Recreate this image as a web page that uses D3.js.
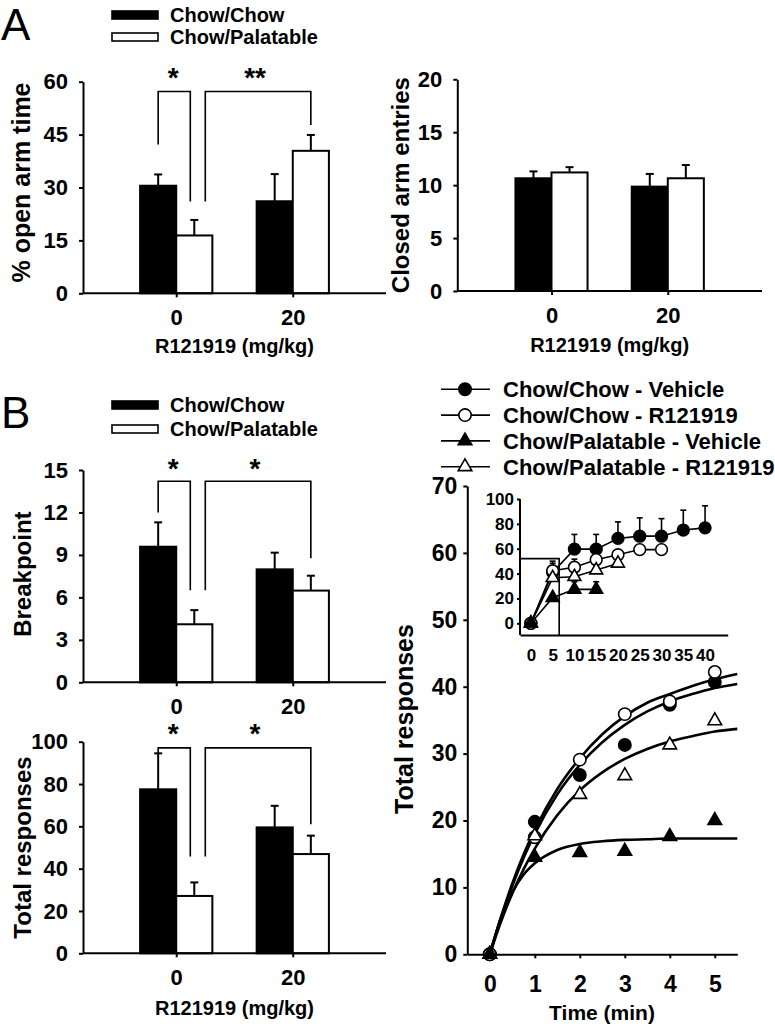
<!DOCTYPE html>
<html><head><meta charset="utf-8">
<script src="https://cdn.jsdelivr.net/npm/d3@7"></script>
<style>
body{margin:0;background:#fff}
svg{display:block}
text{font-family:"Liberation Sans",Arial,Helvetica,sans-serif;font-weight:bold;fill:#000}
</style></head><body>
<svg id="c" width="775" height="1028"></svg>
<script>
// ---------------- DATA ----------------
const doses = ["0", "20"];
const groups = ["Chow/Chow", "Chow/Palatable"];

// Panel A left: % open arm time
const openArmCC = [30.5, 26.1];
const openArmCCsem = [3.2, 7.7];
const openArmCP = [16.4, 40.4];
const openArmCPsem = [4.4, 4.5];
const openArmTicks = [0, 15, 30, 45, 60];

// Panel A right: closed arm entries
const closedCC = [10.65, 9.86];
const closedCCsem = [0.65, 1.2];
const closedCP = [11.2, 10.65];
const closedCPsem = [0.5, 1.25];
const closedTicks = [0, 5, 10, 15, 20];

// Panel B: breakpoint
const bpCC = [9.58, 7.98];
const bpCCsem = [1.72, 1.18];
const bpCP = [4.1, 6.48];
const bpCPsem = [1.0, 1.05];
const bpTicks = [0, 3, 6, 9, 12, 15];

// Panel B: total responses (bars)
const trCC = [77.5, 59.5];
const trCCsem = [17.0, 10.2];
const trCP = [27.1, 46.9];
const trCPsem = [6.4, 8.7];
const trTicks = [0, 20, 40, 60, 80, 100];

// Significance brackets (values in data units): top, left-leg bottom, right-leg bottom
const openArmSig = [
  {from: [0, 0], to: [0, 1], top: 57.2, lb: 42.2, rb: 26.0, label: "*", star: 62.8},
  {from: [0, 1], to: [1, 1], top: 57.2, lb: 26.0, rb: 47.7, label: "**", star: 62.8}
];
const bpSig = [
  {from: [0, 0], to: [0, 1], top: 14.2, lb: 12.0, rb: 6.5, label: "*", star: 15.5},
  {from: [0, 1], to: [1, 1], top: 14.2, lb: 6.5, rb: 8.76, label: "*", star: 15.5}
];
const trSig = [
  {from: [0, 0], to: [0, 1], top: 97.1, lb: 94.5, rb: 45.7, label: "*", star: 106.4},
  {from: [0, 1], to: [1, 1], top: 97.1, lb: 45.7, rb: 61.0, label: "*", star: 106.4}
];

// Line chart: cumulative responses over time
const seriesNames = ["Chow/Chow - Vehicle", "Chow/Chow - R121919", "Chow/Palatable - Vehicle", "Chow/Palatable - R121919"];
const times = [0, 1, 2, 3, 4, 5];
const ccVeh = [0, 19.8, 26.8, 31.3, 37.3, 40.7];
const ccR = [0, 17.5, 29.1, 35.9, 37.8, 42.2];
const cpVeh = [0, 14.5, 15.2, 15.4, 17.6, 20.0];
const cpR = [0, 17.7, 23.9, 26.7, 31.3, 34.9];
const timeTicks = [0, 1, 2, 3, 4, 5];
const respTicks = [0, 10, 20, 30, 40, 50, 60, 70];

// fitted curves
const fitTimes = [0, 0.25, 0.5, 0.75, 1, 1.5, 2, 2.5, 3, 3.5, 4, 4.5, 5, 5.5];
const fitCcVeh = [0, 5.4, 10.2, 14.4, 18.0, 23.9, 28.3, 31.7, 34.3, 36.3, 37.8, 38.9, 39.8, 40.4];
const fitCcR = [0, 5.6, 10.6, 14.9, 18.6, 24.7, 29.3, 32.9, 35.6, 37.6, 38.9, 40.1, 41.1, 41.9];
const fitCpVeh = [0, 5.5, 9.3, 11.9, 13.6, 15.6, 16.5, 16.9, 17.1, 17.2, 17.3, 17.3, 17.3, 17.3];
const fitCpR = [0, 4.9, 9.1, 12.7, 15.8, 20.8, 24.5, 27.2, 29.2, 30.7, 31.8, 32.6, 33.3, 33.7];

// Inset: longer session
const insetTimes = [0, 5, 10, 15, 20, 25, 30, 35, 40];
const inCcVeh = [0, 41, 59.7, 59.7, 68.3, 70.1, 70.1, 75, 76.8];
const inCcVehSem = [0, 9, 11.8, 11.8, 13.3, 14.7, 14.1, 16, 17.7];
const inCcR = [0, 42.3, 45.1, 51.2, 55.2, 59.3, 59.3];
const inCcRSem = [0, 6, 6.5, 5.5, 3, 1, 1];
const inCpR = [0, 36.6, 37.5, 42.8, 48.2];
const inCpRSem = [0, 3, 4, 4, 3];
const inCpVeh = [0, 20.6, 27.3, 27.3];
const inCpVehSem = [0, 2, 6.1, 6.1];
const inXTicks = [0, 5, 10, 15, 20, 25, 30, 35, 40];
const inYTicks = [0, 20, 40, 60, 80, 100];
const inBox = [6.5, 52];

// ---------------- DRAW ----------------
const svg = d3.select("#c");
const AX = 2;

function styleAxis(g, fs) {
  g.select(".domain").attr("stroke", "#000").attr("stroke-width", AX);
  g.selectAll(".tick line").attr("stroke", "#000").attr("stroke-width", AX);
  g.selectAll(".tick text").style("font-size", fs + "px").attr("fill", "#000");
}

function barChart(o) {
  const g = svg.append("g");
  const y = d3.scaleLinear().domain([o.ticks[0], o.ticks[o.ticks.length - 1]]).range([o.y0, o.y1]);
  const x = d3.scalePoint().domain(doses).range([o.x0, o.x1]).padding(o.pad);
  const bw = x.step() * 0.31;
  // y axis
  const ya = g.append("g").attr("transform", `translate(${o.x0},0)`)
    .call(d3.axisLeft(y).tickValues(o.ticks).tickSize(4).tickSizeOuter(0).tickPadding(11));
  styleAxis(ya, 22);
  // bars
  const series = [{v: o.cc, s: o.ccs, fill: "#000", off: -1}, {v: o.cp, s: o.cps, fill: "#fff", off: 0}];
  series.forEach(sr => {
    doses.forEach((d, i) => {
      const bx = x(d) + sr.off * bw;
      const cx = bx + bw / 2;
      g.append("line").attr("x1", cx).attr("x2", cx).attr("y1", y(sr.v[i])).attr("y2", y(sr.v[i] + sr.s[i]))
        .attr("stroke", "#000").attr("stroke-width", 2);
      g.append("line").attr("x1", cx - 4).attr("x2", cx + 4).attr("y1", y(sr.v[i] + sr.s[i])).attr("y2", y(sr.v[i] + sr.s[i]))
        .attr("stroke", "#000").attr("stroke-width", 2);
      g.append("rect").attr("x", bx).attr("y", y(sr.v[i])).attr("width", bw).attr("height", y(0) - y(sr.v[i]))
        .attr("fill", sr.fill).attr("stroke", "#000").attr("stroke-width", 2);
    });
  });
  // x axis
  const xa = g.append("g").attr("transform", `translate(0,${o.y0})`)
    .call(d3.axisBottom(x).tickSize(4).tickSizeOuter(0).tickPadding(12));
  styleAxis(xa, 22);
  xa.select(".domain").attr("d", `M${o.x0},0H${o.x1}`);
  // brackets
  const barCenter = (di, gi) => x(doses[di]) + (gi === 0 ? -bw / 2 : bw / 2);
  (o.sig || []).forEach((b, k) => {
    const xl = barCenter(b.from[0], b.from[1]) + (k === 1 ? 11 : 0);
    const xr = barCenter(b.to[0], b.to[1]) + (k === 0 ? -4 : 0);
    g.append("path").attr("fill", "none").attr("stroke", "#000").attr("stroke-width", 1.6)
      .attr("d", `M${xl},${y(b.lb)}V${y(b.top)}H${xr}V${y(b.rb)}`);
    g.append("text").attr("x", (k === 0 ? barCenter(b.from[0], 0) + bw / 2 - 3 : (xl + xr) / 2 - 3))
      .attr("y", y(b.star) + 15).attr("text-anchor", "middle").style("font-size", "28px").text(b.label);
  });
  if (o.yTitle) {
    g.append("text").attr("transform", `translate(${o.tx},${(o.y0 + o.y1) / 2 + (o.tdy || 0)}) rotate(-90)`)
      .attr("text-anchor", "middle").style("font-size", (o.tfs || 24) + "px").text(o.yTitle);
  }
  if (o.xTitle) {
    g.append("text").attr("x", (x(doses[0]) + x(doses[1])) / 2).attr("y", o.xty)
      .attr("text-anchor", "middle").style("font-size", "20px").text(o.xTitle);
  }
  return g;
}

function legend(x0, y0, gap) {
  const g = svg.append("g");
  groups.forEach((n, i) => {
    g.append("rect").attr("x", x0).attr("y", y0 + i * gap - 4).attr("width", 46).attr("height", 8)
      .attr("fill", i === 0 ? "#000" : "#fff").attr("stroke", "#000").attr("stroke-width", 1.6);
    g.append("text").attr("x", x0 + 58).attr("y", y0 + i * gap + 7).style("font-size", "20px").text(n);
  });
}

// Panel labels
svg.append("text").attr("x", 1).attr("y", 40).style("font-size", "44px").style("font-weight", "normal").text("A");
svg.append("text").attr("x", 1).attr("y", 428).style("font-size", "44px").style("font-weight", "normal").text("B");

legend(112, 15, 22);
legend(112, 405, 24);

barChart({x0: 83, x1: 386, pad: 0.8, y0: 293.3, y1: 81.7, ticks: openArmTicks,
  cc: openArmCC, ccs: openArmCCsem, cp: openArmCP, cps: openArmCPsem, sig: openArmSig,
  yTitle: "% open arm time", tx: 30, tdy: -5, tfs: 25, xTitle: "R121919 (mg/kg)", xty: 353});
barChart({x0: 457.3, x1: 762, pad: 0.81, y0: 291, y1: 79.3, ticks: closedTicks,
  cc: closedCC, ccs: closedCCsem, cp: closedCP, cps: closedCPsem,
  yTitle: "Closed arm entries", tx: 409, xTitle: "R121919 (mg/kg)", xty: 352});
barChart({x0: 83, x1: 386, pad: 0.8, y0: 682.3, y1: 470, ticks: bpTicks,
  cc: bpCC, ccs: bpCCsem, cp: bpCP, cps: bpCPsem, sig: bpSig,
  yTitle: "Breakpoint", tx: 31, tdy: -2});
barChart({x0: 83, x1: 386, pad: 0.8, y0: 953.3, y1: 741.7, ticks: trTicks,
  cc: trCC, ccs: trCCsem, cp: trCP, cps: trCPsem, sig: trSig,
  yTitle: "Total responses", tx: 31, xTitle: "R121919 (mg/kg)", xty: 1015});

// ---------------- Line chart ----------------
const markers = [
  {name: seriesNames[0], sym: d3.symbolCircle, size: 120, fill: "#000"},
  {name: seriesNames[1], sym: d3.symbolCircle, size: 120, fill: "#fff"},
  {name: seriesNames[2], sym: d3.symbolTriangle, size: 80, fill: "#000"},
  {name: seriesNames[3], sym: d3.symbolTriangle, size: 80, fill: "#fff"}
];
function mark(g, m, x, y, scale) {
  g.append("path").attr("d", d3.symbol().type(m.sym).size(m.size * (scale || 1))())
    .attr("transform", `translate(${x},${y})`).attr("fill", m.fill).attr("stroke", "#000").attr("stroke-width", 1.6);
}

const lg = svg.append("g");
const lx = d3.scaleLinear().domain([-0.5, 5.5]).range([467.3, 737.3]);
const ly = d3.scaleLinear().domain([0, 70]).range([954.3, 486]);
const lya = lg.append("g").attr("transform", "translate(467.3,0)")
  .call(d3.axisLeft(ly).tickValues(respTicks).tickSize(4).tickSizeOuter(0).tickPadding(6));
styleAxis(lya, 23);
const lxa = lg.append("g").attr("transform", "translate(0,954.3)")
  .call(d3.axisBottom(lx).tickValues(timeTicks).tickFormat(d3.format("d")).tickSize(4).tickSizeOuter(0).tickPadding(17));
styleAxis(lxa, 23);
lg.append("text").attr("transform", `translate(413,719) rotate(-90)`).attr("text-anchor", "middle")
  .style("font-size", "25px").text("Total responses");
lg.append("text").attr("x", 602).attr("y", 1020).attr("text-anchor", "middle").style("font-size", "21px").text("Time (min)");

const fits = [fitCcVeh, fitCcR, fitCpVeh, fitCpR];
const line = d3.line().x((d, i) => lx(fitTimes[i])).y(d => ly(d)).curve(d3.curveMonotoneX);
fits.forEach(f => lg.append("path").attr("d", line(f)).attr("fill", "none").attr("stroke", "#000").attr("stroke-width", 2.6));
const pts = [ccVeh, ccR, cpVeh, cpR];
[0, 1, 3, 2].forEach(si => {
  pts[si].forEach((v, i) => mark(lg, markers[si], lx(times[i]), ly(v)));
});

// Legend (line chart)
const legY = d3.scalePoint().domain(seriesNames).range([389.3, 466.7]);
seriesNames.forEach((n, i) => {
  lg.append("line").attr("x1", 441).attr("x2", 490).attr("y1", legY(n)).attr("y2", legY(n)).attr("stroke", "#000").attr("stroke-width", 1.6);
  mark(lg, markers[i], 465, legY(n));
  lg.append("text").attr("x", 503).attr("y", legY(n) + 8).style("font-size", "22px").text(n);
});

// Inset
const ig = svg.append("g");
const ix = d3.scaleLinear().domain([-2.5, 45.2]).range([520, 727.7]);
const iy = d3.scaleLinear().domain([-9.4, 100]).range([635, 499]);
const iya = ig.append("g").attr("transform", "translate(520,0)")
  .call(d3.axisLeft(iy).tickValues(inYTicks).tickSize(3).tickSizeOuter(0).tickPadding(3));
styleAxis(iya, 17);
iya.select(".domain").attr("d", `M0,${iy(100)}V${iy(-9.4)}`);
const ixa = ig.append("g").attr("transform", "translate(0,635)")
  .call(d3.axisBottom(ix).tickValues(inXTicks).tickSize(0).tickSizeOuter(0).tickPadding(14));
styleAxis(ixa, 17);
ig.append("path").attr("fill", "none").attr("stroke", "#000").attr("stroke-width", 1.6)
  .attr("d", `M${ix(-2.5)},${iy(inBox[1])}H${ix(inBox[0])}V${iy(-9.4)}`);
const inData = [[inCcVeh, inCcVehSem], [inCcR, inCcRSem], [inCpVeh, inCpVehSem], [inCpR, inCpRSem]];
const iline = d3.line().x((d, i) => ix(insetTimes[i])).y(d => iy(d));
inData.forEach(([v, s]) => {
  v.forEach((d, i) => {
    if (s[i] > 0) {
      const cx = ix(insetTimes[i]);
      ig.append("line").attr("x1", cx).attr("x2", cx).attr("y1", iy(d)).attr("y2", iy(d + s[i])).attr("stroke", "#000").attr("stroke-width", 1.6);
      ig.append("line").attr("x1", cx - 3).attr("x2", cx + 3).attr("y1", iy(d + s[i])).attr("y2", iy(d + s[i])).attr("stroke", "#000").attr("stroke-width", 1.6);
    }
  });
  ig.append("path").attr("d", iline(v)).attr("fill", "none").attr("stroke", "#000").attr("stroke-width", 1.6);
});
[0, 1, 3, 2].forEach(si => {
  inData[si][0].forEach((d, i) => mark(ig, markers[si], ix(insetTimes[i]), iy(d), 0.9));
});
</script>
</body></html>
